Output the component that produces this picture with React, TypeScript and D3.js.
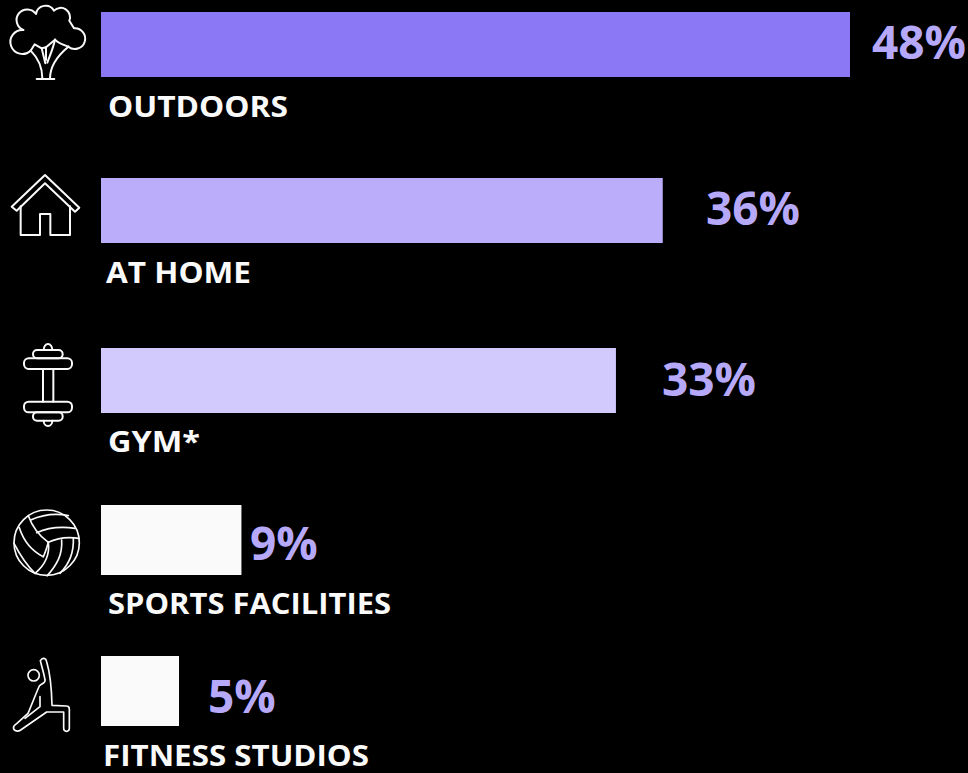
import React from "react";
import * as d3 from "d3";

const categories = ["OUTDOORS", "AT HOME", "GYM*", "SPORTS FACILITIES", "FITNESS STUDIOS"];
const shares = [48, 36, 33, 9, 5];
const barColors = ["#8B78F5", "#BBADF9", "#D2C9FD", "#FAFAFA", "#FAFAFA"];

const WIDTH = 968;
const HEIGHT = 773;
const LABEL_COLOR = "#B7A9F9";
const FONT = "'Open Sans', 'Noto Sans', sans-serif";

// Vertical band of each row, and where its texts sit.
const rowTop = [12, 178, 348, 505, 656];
const rowHeight = [65, 65, 65, 70, 70];
const valueLeft = [872, 706, 662, 250, 208];
const valueBaseline = [58.5, 224.5, 395.5, 559.5, 712.5];
const categoryLeft = [108, 106, 108, 108, 103];
const categoryBaseline = [117, 283, 452, 614, 766];
const categoryWidth = [180, 145, 92, 283, 266];

const x = d3.scaleLinear().domain([0, 48]).range([101, 850]);

// Line icons are traced on a 3x grid and scaled down when placed.
const Icon = ({ top, children }: { top: number; children: React.ReactNode }) => (
  <g
    transform={`translate(0,${top}) scale(${1 / 3})`}
    fill="none"
    stroke="#FAFAFA"
    strokeWidth={6}
    strokeLinejoin="round"
    strokeLinecap="round"
  >
    {children}
  </g>
);

const Tree = () => (
  <Icon top={0}>
    <path d="M70,90 A36,36 0 1 0 92,152" />
    <path d="M70,90 A32,32 0 1 1 108,42 A29,29 0 0 1 162,32 A28,28 0 0 1 208,62 L222,85 A31,31 0 1 1 205,140" />
    <path d="M92,152 C110,170 127,195 127,235" />
    <path d="M205,140 C175,165 150,195 150,235" />
    <path d="M110,237 H163" />
    <path d="M92,152 L104,133 L125,145 L136,190" />
    <path d="M125,145 L138,142 L138,180" />
    <path d="M165,119 C158,150 148,170 142,188" />
    <path d="M165,119 C175,130 190,135 205,140" />
    <path d="M165,119 L138,142" />
  </Icon>
);

const House = () => (
  <Icon top={165}>
    <path d="M35,125 L135,30 L238,128 L225,140 L135,55 L50,137 Z" />
    <path d="M62,124 V210 H120 V147 H151 V210 H210 V124" />
  </Icon>
);

const Dumbbell = () => (
  <Icon top={335}>
    <rect x={72} y={70} width={144} height={32} rx={14} />
    <rect x={99} y={45} width={89} height={25} rx={12} />
    <path d="M131,45 A13,18 0 0 1 157,45" />
    <path d="M129,102 V200 M160,102 V200" />
    <rect x={72} y={200} width={144} height={32} rx={14} />
    <rect x={99} y={232} width={89} height={25} rx={12} />
    <path d="M131,257 A13,16 0 0 0 157,257" />
  </Icon>
);

const Volleyball = () => (
  <Icon top={500}>
    <g strokeWidth={5}>
      <circle cx={140} cy={128} r={98} />
      <path d="M145,127 C115,105 95,75 85,47" />
      <path d="M92,60 C130,43 170,40 205,47" />
      <path d="M110,98 C150,80 190,80 225,85" />
      <path d="M145,127 C175,112 205,110 237,115" />
      <path d="M58,83 C70,120 90,150 130,170" />
      <path d="M42,130 C60,165 80,195 105,220" />
      <path d="M145,127 C150,165 135,195 105,220" />
      <path d="M185,120 C188,165 170,195 142,227" />
      <path d="M220,115 C222,160 205,195 180,220" />
      <path d="M145,127 C140,145 135,160 130,170" />
    </g>
  </Icon>
);

const Yoga = () => (
  <Icon top={650}>
    <g strokeWidth={5}>
      <circle cx={101} cy={76} r={17} />
      <path d="M121,32 C128,20 138,25 140,35 C152,75 155,120 156,166 L200,168 C207,168 208,172 208,178 V235 C208,247 191,247 191,235 V186 H140 L62,240 C50,248 38,240 41,230 C43,226 46,224 50,221 L84,190 C95,165 108,130 118,108 C125,100 137,100 135,90 C132,70 125,50 121,32 Z" />
      <path d="M120,140 V170 L75,205" />
    </g>
  </Icon>
);

const icons = [Tree, House, Dumbbell, Volleyball, Yoga];

export default function App() {
  return (
    <svg
      width={WIDTH}
      height={HEIGHT}
      viewBox={`0 0 ${WIDTH} ${HEIGHT}`}
      style={{ position: "fixed", left: 0, top: 0, background: "#000", display: "block" }}
    >
      <rect width={WIDTH} height={HEIGHT} fill="#000" />
      {categories.map((name, i) => {
        const Glyph = icons[i];
        return (
          <g key={name}>
            <Glyph />
            <rect
              x={x(0)}
              y={rowTop[i]}
              width={x(shares[i]) - x(0)}
              height={rowHeight[i]}
              fill={barColors[i]}
            />
            <text
              x={valueLeft[i]}
              y={valueBaseline[i]}
              fontFamily={FONT}
              fontWeight={700}
              fontSize={46}
              fill={LABEL_COLOR}
            >
              {shares[i]}%
            </text>
            <text
              x={categoryLeft[i]}
              y={categoryBaseline[i]}
              fontFamily={FONT}
              fontWeight={700}
              fontSize={29}
              fill="#FAFAFA"
              textLength={categoryWidth[i]}
              lengthAdjust="spacingAndGlyphs"
            >
              {name}
            </text>
          </g>
        );
      })}
    </svg>
  );
}
